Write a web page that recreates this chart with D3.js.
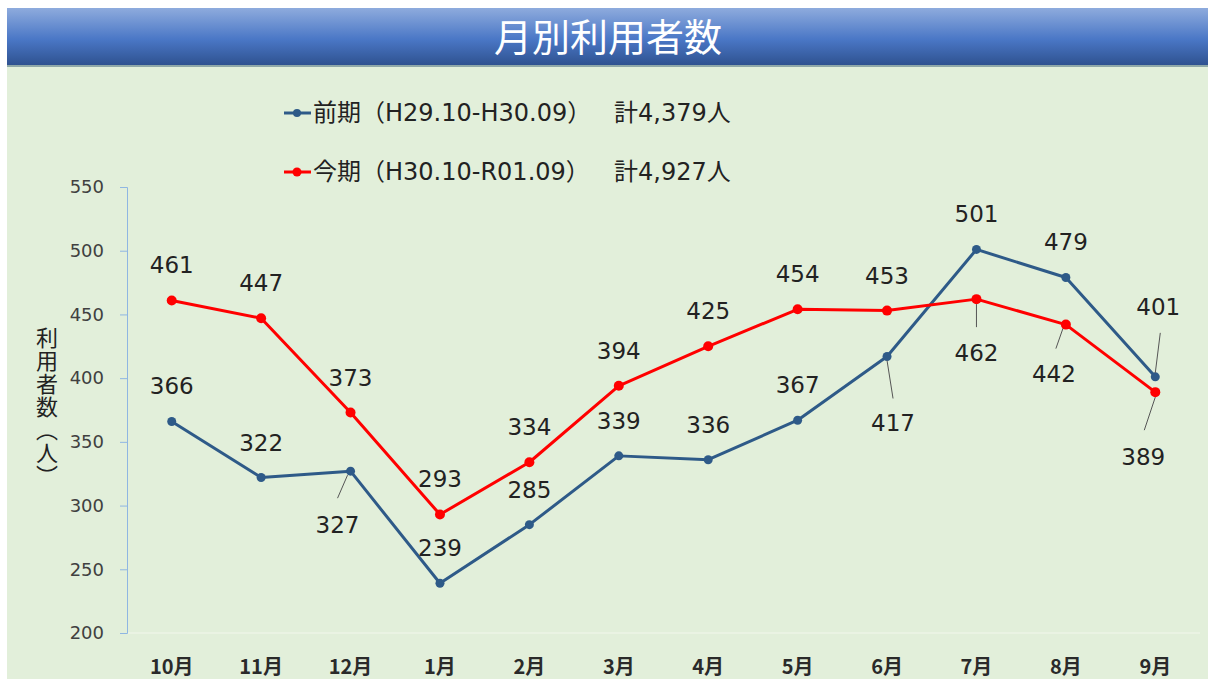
<!DOCTYPE html>
<html>
<head>
<meta charset="utf-8">
<script src="https://cdn.jsdelivr.net/npm/d3@7"></script>
<style>
  body { margin: 0; background: #fff; }
  svg { display: block; }
</style>
</head>
<body>
<div id="chart"></div>
<script>
// monthly users chart - previous period vs this period

const months = ["10月", "11月", "12月", "1月", "2月", "3月", "4月", "5月", "6月", "7月", "8月", "9月"]
const prevValues = [366, 322, 327, 239, 285, 339, 336, 367, 417, 501, 479, 401]
const currValues = [461, 447, 373, 293, 334, 394, 425, 454, 453, 462, 442, 389]
const yTicks = [200, 250, 300, 350, 400, 450, 500, 550]
const seriesNames = ["前期（H29.10-H30.09）", "今期（H30.10-R01.09）"]
const seriesTotals = ["計4,379人", "計4,927人"]

const width = 1208, height = 679
const margin = { left: 127, right: 8, top: 187, bottom: 46 }
const blue = "#2e5a88", red = "#ff0000"
const numFont = "'DejaVu Sans', 'Noto Sans CJK JP', sans-serif"

// label placement (dx, dy from the point) and leader lines, kept apart from the data
const prevLabelPos = [[0,-35],[0,-35],[-13,54],[0,-35],[0,-35],[0,-35],[0,-35],[0,-35],[6,67],[0,-35],[0,-35],[3,-70]]
const currLabelPos = [[0,-35],[0,-35],[0,-35],[0,-35],[0,-35],[0,-35],[0,-35],[0,-35],[0,-35],[0,54],[-12,49],[-12,65]]
const prevLeaders = { 2: [-3, 4, -13, 27], 8: [0, 4, 6, 42], 11: [0, -4, 5, -44] }
const currLeaders = { 9: [0, 5, 0, 28], 10: [-3, 4, -10, 24], 11: [0, 5, -11, 38] }

const svg = d3.select("#chart")
  .append("svg")
  .attr("width", width)
  .attr("height", height)

// header gradient
const defs = svg.append("defs")
const grad = defs.append("linearGradient")
  .attr("id", "hdr")
  .attr("x1", 0).attr("y1", 0).attr("x2", 0).attr("y2", 1)
grad.append("stop").attr("offset", "0%").attr("stop-color", "#8eabdd")
grad.append("stop").attr("offset", "55%").attr("stop-color", "#4a77c6")
grad.append("stop").attr("offset", "100%").attr("stop-color", "#2f5290")

// green panel
svg.append("rect")
  .attr("x", 7).attr("y", 65)
  .attr("width", width - 7).attr("height", height - 65)
  .attr("fill", "#e2efda")

svg.append("rect")
  .attr("x", 7).attr("y", 8)
  .attr("width", width - 7).attr("height", 57)
  .attr("fill", "url(#hdr)")
svg.append("rect")
  .attr("x", 7).attr("y", 65)
  .attr("width", width - 7).attr("height", 2)
  .attr("fill", "#8fa8a8")

svg.append("text")
  .attr("x", 608).attr("y", 51)
  .attr("text-anchor", "middle")
  .attr("fill", "#fff")
  .style("font-family", "'Noto Sans CJK JP', sans-serif")
  .style("font-size", "38px")
  .text("月別利用者数")

// scales
const x = d3.scaleBand()
  .domain(months)
  .range([margin.left, width - margin.right])
const y = d3.scaleLinear()
  .domain([200, 550])
  .range([height - margin.bottom, margin.top])
const cx = d => x(d) + x.bandwidth() / 2

// faint x axis line
svg.append("line")
  .attr("x1", margin.left).attr("x2", 1200)
  .attr("y1", y(200)).attr("y2", y(200))
  .attr("stroke", "#ecf4e6").attr("stroke-width", 1.5)

// y axis
const yAxis = svg.append("g")
  .attr("transform", `translate(${margin.left},0)`)
  .call(d3.axisLeft(y).tickValues(yTicks).tickSize(7).tickPadding(16))
yAxis.select(".domain").attr("stroke", "#8fb6e2")
yAxis.selectAll(".tick line").attr("stroke", "#8fb6e2")
yAxis.selectAll(".tick text")
  .attr("fill", "#404040")
  .style("font-family", numFont)
  .style("font-size", "18px")

// x labels
svg.append("g")
  .selectAll("text")
  .data(months)
  .enter()
  .append("text")
  .attr("x", d => cx(d))
  .attr("y", 674)
  .attr("text-anchor", "middle")
  .attr("fill", "#2a2a2a")
  .style("font-family", "'Noto Sans CJK JP', sans-serif")
  .style("font-size", "20px")
  .style("font-weight", "bold")
  .text(d => d)

// y axis title, vertical
svg.append("text")
  .attr("x", 47).attr("y", 327)
  .attr("fill", "#222")
  .style("font-family", "'Noto Sans CJK JP', sans-serif")
  .style("font-size", "22px")
  .style("letter-spacing", "1px")
  .style("writing-mode", "vertical-rl")
  .style("text-orientation", "mixed")
  .text("利用者数（人）")

// series
const series = [
  { values: prevValues, color: blue, pos: prevLabelPos, leaders: prevLeaders, r: 4.5 },
  { values: currValues, color: red, pos: currLabelPos, leaders: currLeaders, r: 5 }
]

const line = d3.line()
  .x((d, i) => cx(months[i]))
  .y(d => y(d))

series.forEach(s => {
  svg.append("path")
    .datum(s.values)
    .attr("d", line)
    .attr("fill", "none")
    .attr("stroke", s.color)
    .attr("stroke-width", 3)
    .attr("stroke-linejoin", "round")

  svg.append("g")
    .selectAll("circle")
    .data(s.values)
    .enter()
    .append("circle")
    .attr("cx", (d, i) => cx(months[i]))
    .attr("cy", d => y(d))
    .attr("r", s.r)
    .attr("fill", s.color)

  // leader lines
  Object.keys(s.leaders).forEach(k => {
    const i = +k, L = s.leaders[k]
    const px = cx(months[i]), py = y(s.values[i])
    svg.append("line")
      .attr("x1", px + L[0]).attr("y1", py + L[1])
      .attr("x2", px + L[2]).attr("y2", py + L[3])
      .attr("stroke", "#555").attr("stroke-width", 1)
  })

  svg.append("g")
    .selectAll("text")
    .data(s.values)
    .enter()
    .append("text")
    .attr("x", (d, i) => cx(months[i]) + s.pos[i][0])
    .attr("y", (d, i) => y(d) + s.pos[i][1])
    .attr("text-anchor", "middle")
    .attr("dominant-baseline", "central")
    .attr("fill", "#222")
    .style("font-family", numFont)
    .style("font-size", "23px")
    .text(d => d)
})

// legend
const legendY = [113, 172]
const legendColors = [blue, red]
legendY.forEach((ly, i) => {
  svg.append("line")
    .attr("x1", 284).attr("x2", 311)
    .attr("y1", ly).attr("y2", ly)
    .attr("stroke", legendColors[i]).attr("stroke-width", 3)
  svg.append("circle")
    .attr("cx", 297).attr("cy", ly).attr("r", i === 0 ? 4 : 4.5)
    .attr("fill", legendColors[i])
  svg.append("text")
    .attr("x", 313).attr("y", ly)
    .attr("dominant-baseline", "central")
    .attr("fill", "#222")
    .style("font-family", numFont)
    .style("font-size", "24px")
    .text(seriesNames[i])
  svg.append("text")
    .attr("x", 614).attr("y", ly)
    .attr("dominant-baseline", "central")
    .attr("fill", "#222")
    .style("font-family", numFont)
    .style("font-size", "24px")
    .text(seriesTotals[i])
})
</script>
</body>
</html>
